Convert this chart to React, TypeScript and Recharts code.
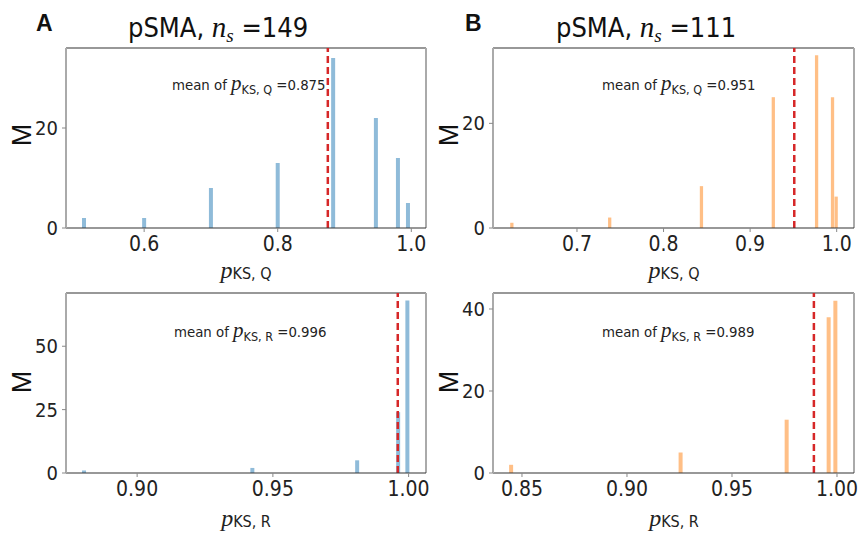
import React from 'react';
import { ComposedChart, Bar, XAxis, YAxis, ReferenceLine } from 'recharts';

// panel A (blue, pKS,Q)
const aBins = [0.51, 0.6, 0.7, 0.8, 0.883, 0.947, 0.98, 0.995];
const aCounts = [2, 2, 8, 13, 34, 22, 14, 5];
// panel B (orange, pKS,Q)
const bBins = [0.625, 0.738, 0.844, 0.927, 0.977, 0.9954, 0.9996];
const bCounts = [1, 2, 8, 25, 33, 25, 6];
// panel C (blue, pKS,R)
const cBins = [0.8803, 0.9423, 0.9809, 0.996, 0.9994];
const cCounts = [1, 2, 5, 24, 68];
// panel D (orange, pKS,R)
const dBins = [0.845, 0.9257, 0.9762, 0.9962, 0.9994];
const dCounts = [2, 5, 13, 38, 42];

const means = [0.875, 0.951, 0.996, 0.989];

const aXTicks = [0.6, 0.8, 1.0];
const bXTicks = [0.7, 0.8, 0.9, 1.0];
const cXTicks = [0.9, 0.95, 1.0];
const dXTicks = [0.85, 0.9, 0.95, 1.0];
const aYTicks = [0, 20];
const bYTicks = [0, 20];
const cYTicks = [0, 25, 50];
const dYTicks = [0, 20, 40];

const BLUE = '#8fbbd9';
const ORANGE = '#ffbf86';
const RED = '#d62728';
const NARROW = "'Liberation Sans Narrow', 'DejaVu Sans Condensed', 'Liberation Sans', sans-serif";
const SANS = "'Liberation Sans', 'DejaVu Sans', sans-serif";
const MATH = "'Liberation Serif', 'DejaVu Serif', serif";

const toRows = (bins: number[], counts: number[]) => bins.map((x, i) => ({ x, m: counts[i] }));

type PanelProps = {
  left: number;
  top: number;
  yAxisWidth: number;
  right: number;
  rows: { x: number; m: number }[];
  color: string;
  mean: number;
  xDomain: [number, number];
  yDomain: [number, number];
  xTicks: number[];
  yTicks: number[];
  digits: number;
};

const Panel = ({ left, top, yAxisWidth, right, rows, color, mean, xDomain, yDomain, xTicks, yTicks, digits }: PanelProps) => (
  <div style={{ position: 'absolute', left, top }}>
    <ComposedChart
      width={431}
      height={270}
      data={rows}
      margin={{ top: 48, right, bottom: 0, left: 0 }}
    >
      <XAxis
        dataKey="x"
        type="number"
        domain={xDomain}
        allowDataOverflow
        ticks={xTicks}
        tickFormatter={(v: number) => v.toFixed(digits)}
        height={42}
        tickSize={4}
        tickMargin={4}
        axisLine={{ stroke: '#333', strokeWidth: 1.2 }}
        tickLine={{ stroke: '#888' }}
        tick={{ fill: '#222', fontSize: 21, fontFamily: NARROW }}
      />
      <YAxis
        type="number"
        domain={yDomain}
        allowDataOverflow
        ticks={yTicks}
        width={yAxisWidth}
        tickSize={4}
        tickMargin={4}
        axisLine={{ stroke: '#aaa', strokeWidth: 2 }}
        tickLine={{ stroke: '#888' }}
        tick={{ fill: '#222', fontSize: 20, fontFamily: NARROW }}
      />
      <Bar dataKey="m" fill={color} barSize={4} isAnimationActive={false} />
      <ReferenceLine y={yDomain[1]} stroke="#333" strokeWidth={1.2} />
      <ReferenceLine x={xDomain[1]} stroke="#aaa" strokeWidth={2} />
      <ReferenceLine x={mean} stroke={RED} strokeWidth={2.5} strokeDasharray="7 4" />
    </ComposedChart>
  </div>
);

const Title = ({ x, n }: { x: number; n: string }) => (
  <text x={x} y={37} fontSize={27} fontFamily={NARROW} fill="#111">
    pSMA,{' '}
    <tspan fontFamily={MATH} fontStyle="italic" fontSize={29}>n</tspan>
    <tspan fontFamily={MATH} fontStyle="italic" fontSize={19} dy={5}>s</tspan>
    <tspan dy={-5}> ={n}</tspan>
  </text>
);

const Note = ({ x, y, sub, val }: { x: number; y: number; sub: string; val: string }) => (
  <text x={x} y={y} fontSize={14.8} fontFamily={NARROW} fill="#222">
    mean of{' '}
    <tspan fontFamily={MATH} fontStyle="italic" fontSize={21}>p</tspan>
    <tspan fontSize={12.5} dy={4}>{sub}</tspan>
    <tspan dy={-4}> ={val}</tspan>
  </text>
);

const XLabel = ({ x, y, sub }: { x: number; y: number; sub: string }) => (
  <text x={x} y={y} textAnchor="middle" fontSize={16} fontFamily={NARROW} fill="#222">
    <tspan fontFamily={MATH} fontStyle="italic" fontSize={24}>p</tspan>
    <tspan dy={1}>{sub}</tspan>
  </text>
);

const YLabel = ({ x, y }: { x: number; y: number }) => (
  <text x={x} y={y} transform={`rotate(-90 ${x} ${y})`} textAnchor="middle" fontSize={27} fontFamily={SANS} fill="#111">
    M
  </text>
);

export default function App() {
  return (
    <div style={{ position: 'absolute', left: 0, top: 0, width: 862, height: 533, background: '#fff', overflow: 'hidden' }}>
      <Panel left={0} top={0} yAxisWidth={66} right={5} rows={toRows(aBins, aCounts)} color={BLUE} mean={means[0]}
        xDomain={[0.483, 1.022]} yDomain={[0, 36]} xTicks={aXTicks} yTicks={aYTicks} digits={1} />
      <Panel left={431} top={0} yAxisWidth={62} right={8} rows={toRows(bBins, bCounts)} color={ORANGE} mean={means[1]}
        xDomain={[0.603, 1.02]} yDomain={[0, 34.4]} xTicks={bXTicks} yTicks={bYTicks} digits={1} />
      <Panel left={0} top={245} yAxisWidth={66} right={5} rows={toRows(cBins, cCounts)} color={BLUE} mean={means[2]}
        xDomain={[0.8738, 1.0064]} yDomain={[0, 71]} xTicks={cXTicks} yTicks={cYTicks} digits={2} />
      <Panel left={431} top={245} yAxisWidth={62} right={8} rows={toRows(dBins, dCounts)} color={ORANGE} mean={means[3]}
        xDomain={[0.8362, 1.0081]} yDomain={[0, 43.9]} xTicks={dXTicks} yTicks={dYTicks} digits={2} />

      <svg width={862} height={533} style={{ position: 'absolute', left: 0, top: 0, pointerEvents: 'none' }}>
        <text x={36} y={31} fontSize={23} fontWeight="bold" fontFamily={SANS} fill="#111">A</text>
        <text x={465} y={31} fontSize={23} fontWeight="bold" fontFamily={SANS} fill="#111">B</text>
        <Title x={128} n="149" />
        <Title x={556} n="111" />
        <Note x={172} y={90} sub="KS, Q" val="0.875" />
        <Note x={602} y={90} sub="KS, Q" val="0.951" />
        <Note x={174} y={337} sub="KS, R" val="0.996" />
        <Note x={602} y={337} sub="KS, R" val="0.989" />
        <XLabel x={246} y={278} sub="KS, Q" />
        <XLabel x={674} y={278} sub="KS, Q" />
        <XLabel x={246} y={526} sub="KS, R" />
        <XLabel x={674} y={526} sub="KS, R" />
        <YLabel x={31} y={135} />
        <YLabel x={31} y={382} />
        <YLabel x={458} y={135} />
        <YLabel x={458} y={382} />
      </svg>
    </div>
  );
}
